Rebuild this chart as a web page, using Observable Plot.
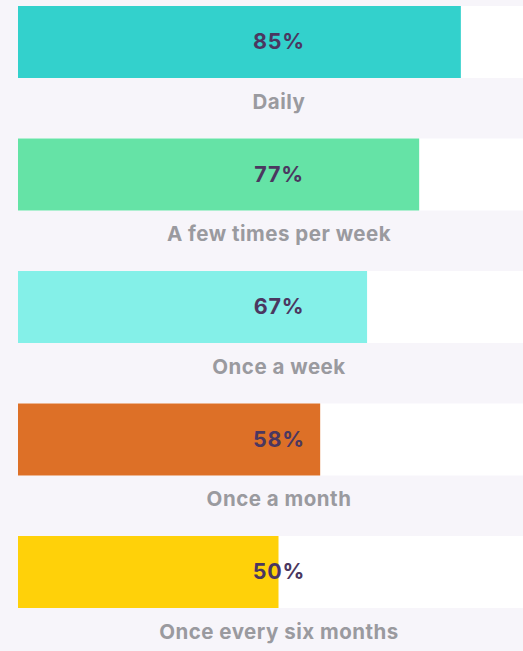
<!DOCTYPE html>
<html>
<head>
<meta charset="utf-8">
<script src="https://cdn.jsdelivr.net/npm/d3@7"></script>
<script src="https://cdn.jsdelivr.net/npm/@observablehq/plot@0.6"></script>
<style>
  html, body { margin: 0; padding: 0; background: #f7f5fa; }
  #chart svg { display: block; }
</style>
</head>
<body>
<div id="chart"></div>
<script>
const categories = ["Daily", "A few times per week", "Once a week", "Once a month", "Once every six months"];
const values = [85, 77, 67, 58, 50];
const colors = ["#33d1cc", "#65e3a6", "#84f0e8", "#dd7027", "#ffd109"];
const fullScale = 100;

const data = categories.map((c, i) => ({category: c, value: values[i], color: colors[i], label: values[i] + "%"}));

const chart = Plot.plot({
  width: 523,
  height: 651,
  margin: 0,
  style: {background: "#f7f5fa", fontFamily: "Inter, sans-serif"},
  x: {domain: [0, fullScale], range: [18, 539], axis: null},
  y: {domain: categories, range: [6, 608], paddingInner: 1 - 72 / 132.5, paddingOuter: 0, align: 0, round: false, axis: null},
  marks: [
    Plot.barX(data, {x1: 0, x2: fullScale, y: "category", fill: "#ffffff"}),
    Plot.barX(data, {x1: 0, x2: "value", y: "category", fill: "color"}),
    Plot.text(data, {x: fullScale / 2, y: "category", text: "label", fill: "#4b3760", fontSize: 21.5, fontWeight: 700}),
    Plot.text(data, {x: fullScale / 2, y: "category", text: "category", dy: 59.5, fill: "#9a9a9f", fontSize: 20.5, fontWeight: 700})
  ]
});
const textGroups = chart.querySelectorAll('g[aria-label="text"]');
if (textGroups[0]) textGroups[0].style.letterSpacing = "0.8px";
if (textGroups[1]) textGroups[1].style.letterSpacing = "0.5px";
document.getElementById("chart").appendChild(chart);
</script>
</body>
</html>
